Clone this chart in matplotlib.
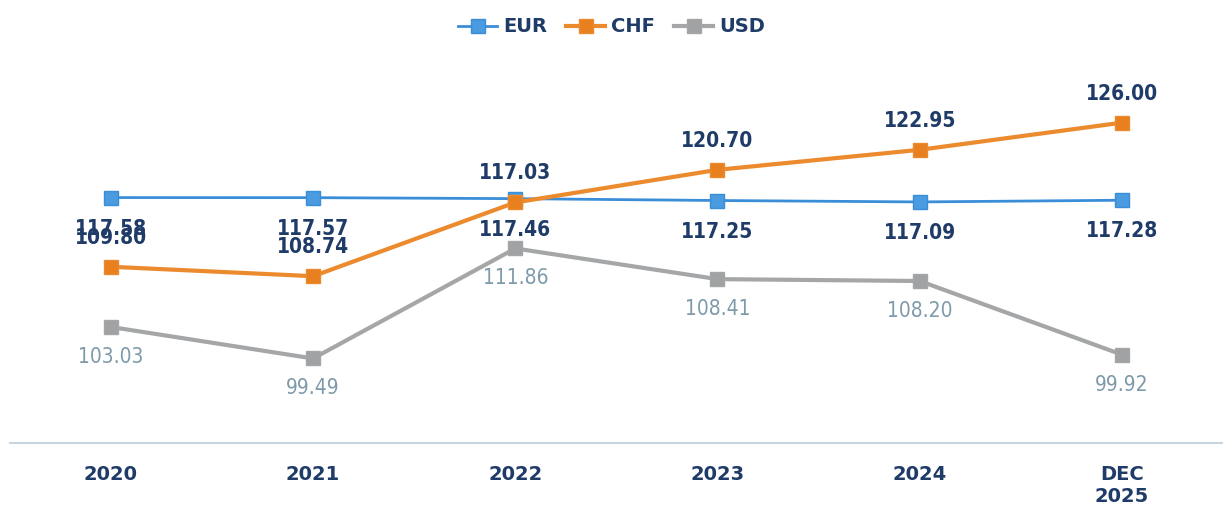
import matplotlib
matplotlib.use('Agg')
import matplotlib.pyplot as plt

# ── Data ─────────────────────────────────────────────────────────────────────
CATEGORIES = ["2020", "2021", "2022", "2023", "2024", "DEC\n2025"]
EUR = [117.58, 117.57, 117.46, 117.25, 117.09, 117.28]
CHF = [109.80, 108.74, 117.03, 120.70, 122.95, 126.00]
USD = [103.03, 99.49, 111.86, 108.41, 108.20, 99.92]

NAVY = "#1f3b68"

plt.rcParams['font.family'] = ["DejaVu Sans"]

fig = plt.figure(figsize=(12.23, 5.12), dpi=100)
ax = fig.add_axes([0.008, 0.135, 0.992, 0.747])

x = list(range(len(CATEGORIES)))

# (values, label, line colour, marker face, linewidth, label offset px, text colour, weight)
series = [
    (EUR, "EUR", "#3a8ed8", "#4a9be0", 2.0, -31, NAVY, "bold"),
    (CHF, "CHF", "#ec8a2e", "#e8801f", 3.0, 29, NAVY, "bold"),
    (USD, "USD", "#a4a6a8", "#a0a2a4", 3.0, -30, "#7e9aaa", "normal"),
]

for vals, name, color, face, lw, off, tcolor, weight in series:
    ax.plot(x, vals, color=color, linewidth=lw, marker="s", markersize=10,
            markerfacecolor=face, markeredgecolor=color, label=name, zorder=3)
    for xi, v in zip(x, vals):
        ax.annotate(f"{v:.2f}", (xi, v), xytext=(0, off * 0.72),
                    textcoords="offset points", ha="center", va="center",
                    fontsize=15, color=tcolor, fontweight=weight,
                    fontstretch="condensed", zorder=4)

ax.set_xlim(-0.5, len(CATEGORIES) - 0.5)
ax.set_ylim(90, 133)
ax.set_xticks(x)
ax.set_xticklabels(CATEGORIES, fontsize=14, fontweight="bold", color=NAVY,
                   linespacing=1.2)
ax.tick_params(axis="x", length=0, pad=16)
ax.set_yticks([])

for side in ["top", "right", "left"]:
    ax.spines[side].set_visible(False)
ax.spines["bottom"].set_color("#c9d5de")
ax.spines["bottom"].set_linewidth(1.5)

leg = fig.legend(loc="upper center", bbox_to_anchor=(0.5, 1.0), ncol=3,
                 frameon=False, fontsize=14, handlelength=2.0,
                 columnspacing=1.0, handletextpad=0.3)
for t in leg.get_texts():
    t.set_color(NAVY)
    t.set_fontweight("bold")

plt.savefig("out.png", dpi=100)
